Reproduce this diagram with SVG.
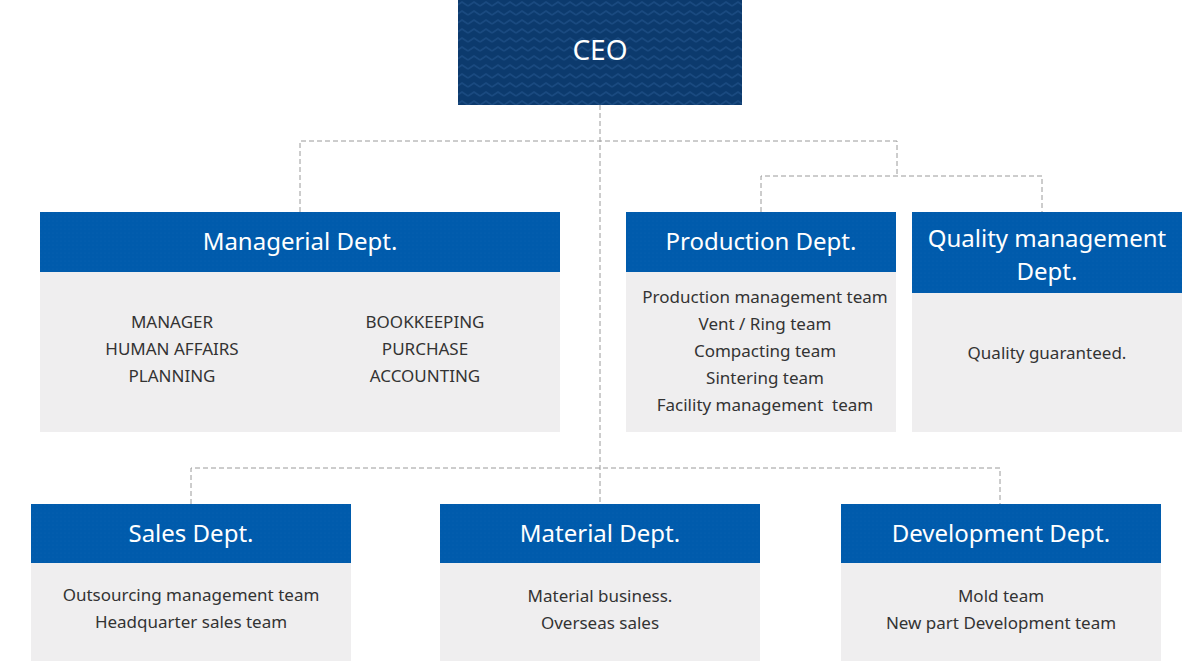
<svg xmlns="http://www.w3.org/2000/svg" width="1200" height="661" viewBox="0 0 1200 661">
<style>
.hd{fill:#005bac}
.bd{fill:#efeeef}
.ht{font-family:"Noto Sans","Liberation Sans",sans-serif;font-size:24px;fill:#fff;text-anchor:middle}
.bt{font-family:"Noto Sans","Liberation Sans",sans-serif;font-size:17px;fill:#333;text-anchor:middle}
.cn{fill:none;stroke:#9a9a9a;stroke-width:1;stroke-dasharray:5 3}
</style>
<defs>
<pattern id="zz" width="12" height="9" patternUnits="userSpaceOnUse">
<rect width="12" height="9" fill="#0c3a6d"/>
<polyline points="0,6 6,2 12,6" fill="none" stroke="#1a4a80" stroke-width="1.6"/>
</pattern>
<pattern id="dots" width="4" height="4" patternUnits="userSpaceOnUse">
<rect width="4" height="4" fill="#005bac"/>
<circle cx="1" cy="1" r="0.6" fill="#0862b2"/>
</pattern>
</defs>
<rect width="1200" height="661" fill="#fff"/>
<g id="connectors">
<path class="cn" d="M600,105 V504"/>
<path class="cn" d="M300,212 V141 H897 V176"/>
<path class="cn" d="M761,212 V176 H1042 V212"/>
<path class="cn" d="M191,504 V468 H1000 V504"/>
</g>
<g id="ceo">
<rect x="458" y="0" width="284" height="105" fill="url(#zz)"/>
<text x="600" y="60" class="ht" style="font-size:28px">CEO</text>
</g>
<g id="managerial">
<rect x="40" y="212" width="520" height="60" fill="url(#dots)"/>
<rect x="40" y="272" width="520" height="160" class="bd"/>
<text x="300" y="250" class="ht">Managerial Dept.</text>
<text class="bt" x="172" y="328">MANAGER</text>
<text class="bt" x="172" y="355">HUMAN AFFAIRS</text>
<text class="bt" x="172" y="382">PLANNING</text>
<text class="bt" x="425" y="328">BOOKKEEPING</text>
<text class="bt" x="425" y="355">PURCHASE</text>
<text class="bt" x="425" y="382">ACCOUNTING</text>
</g>
<g id="production">
<rect x="626" y="212" width="270" height="60" fill="url(#dots)"/>
<rect x="626" y="272" width="270" height="160" class="bd"/>
<text x="761" y="250" class="ht">Production Dept.</text>
<text class="bt" x="765" y="303">Production management team</text>
<text class="bt" x="765" y="330">Vent / Ring team</text>
<text class="bt" x="765" y="357">Compacting team</text>
<text class="bt" x="765" y="384">Sintering team</text>
<text class="bt" x="765" y="411" xml:space="preserve">Facility management  team</text>
</g>
<g id="quality">
<rect x="912" y="212" width="270" height="81" fill="url(#dots)"/>
<rect x="912" y="293" width="270" height="139" class="bd"/>
<text x="1047" y="247" class="ht">Quality management</text>
<text x="1047" y="280" class="ht">Dept.</text>
<text class="bt" x="1047" y="359">Quality guaranteed.</text>
</g>
<g id="sales">
<rect x="31" y="504" width="320" height="59" fill="url(#dots)"/>
<rect x="31" y="563" width="320" height="98" class="bd"/>
<text x="191" y="542" class="ht">Sales Dept.</text>
<text class="bt" x="191" y="601">Outsourcing management team</text>
<text class="bt" x="191" y="628">Headquarter sales team</text>
</g>
<g id="material">
<rect x="440" y="504" width="320" height="59" fill="url(#dots)"/>
<rect x="440" y="563" width="320" height="98" class="bd"/>
<text x="600" y="542" class="ht">Material Dept.</text>
<text class="bt" x="600" y="602">Material business.</text>
<text class="bt" x="600" y="629">Overseas sales</text>
</g>
<g id="development">
<rect x="841" y="504" width="320" height="59" fill="url(#dots)"/>
<rect x="841" y="563" width="320" height="98" class="bd"/>
<text x="1001" y="542" class="ht">Development Dept.</text>
<text class="bt" x="1001" y="602">Mold team</text>
<text class="bt" x="1001" y="629">New part Development team</text>
</g>
</svg>
